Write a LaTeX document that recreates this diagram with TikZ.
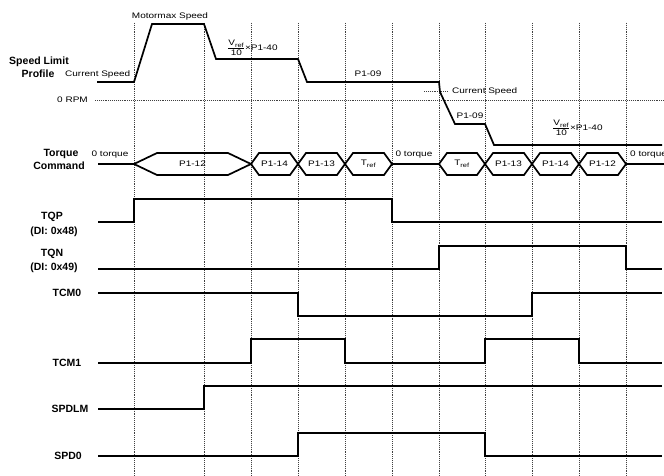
\documentclass[tikz,border=0pt]{standalone}
\usepackage{fontspec}
\setmainfont{Liberation Sans}
\newcommand{\wtxt}[1]{\scalebox{1.25}[1]{#1}}
\newcommand{\vreflbl}{\wtxt{$\vcenter{\hbox{\renewcommand\arraystretch{1}\setlength{\tabcolsep}{0pt}\begin{tabular}{@{}c@{}}V\textsubscript{ref}\\[-1pt]\hline\rule{0pt}{7.5pt}10\end{tabular}}}$\kern0.5pt×P1-40}}
\begin{document}
\begin{tikzpicture}[x=1pt,y=-1pt,
  sig/.style={line width=1.7pt, line join=miter},
  gridline/.style={densely dotted, line width=0.9pt, black!75},
  small/.style={font=\fontsize{8}{9}\selectfont, inner sep=0pt},
  big/.style={font=\bfseries\fontsize{10.5}{12}\selectfont, inner sep=0pt}]
\useasboundingbox (0,0) rectangle (664,476);
\fill[white] (0,0) rectangle (664,476);
% grid
\foreach \x in {134,204,251,298,345,392,439,485,532,579,626}
  \draw[gridline] (\x,23) -- (\x,476);
\draw[gridline] (95,100) -- (664,100);
\draw[gridline] (424,91) -- (448,91);
% speed limit profile
\draw[sig] (97,82) -- (134,82) -- (152,24) -- (204,24) -- (216,59) -- (298,59) -- (307,82) -- (439,82) -- (440,92) -- (455,124) -- (485,124) -- (494,145) -- (662,145);
% torque command
\draw[sig] (98,164) -- (134,164);
\draw[sig] (392,164) -- (439,164);
\draw[sig] (626,164) -- (664,164);
\foreach \a/\b/\s/\t/\n in {134/251/23/P1-12/ha,251/298/8/P1-14/hb,298/345/8/P1-13/hc,345/392/8/{T\textsubscript{ref}}/hd,439/485/8/{T\textsubscript{ref}}/he,485/532/8/P1-13/hf,532/579/8/P1-14/hg,579/626/8/P1-12/hh}{
  \draw[sig] (\a,164) -- ({\a+\s},153) -- ({\b-\s},153) -- (\b,164) -- ({\b-\s},175) -- ({\a+\s},175) -- cycle;
  \node[small] (\n) at ({(\a+\b)/2},164) {\wtxt{\t}};
}
% digital signals
\draw[sig] (98,222) -- (134,222) -- (134,199) -- (392,199) -- (392,222) -- (662,222);
\draw[sig] (98,269) -- (439,269) -- (439,246) -- (626,246) -- (626,269) -- (662,269);
\draw[sig] (98,293) -- (298,293) -- (298,316) -- (532,316) -- (532,293) -- (662,293);
\draw[sig] (98,363) -- (251,363) -- (251,339) -- (345,339) -- (345,363) -- (485,363) -- (485,339) -- (579,339) -- (579,363) -- (662,363);
\draw[sig] (98,409) -- (204,409) -- (204,386) -- (662,386);
\draw[sig] (98,456) -- (298,456) -- (298,433) -- (485,433) -- (485,456) -- (662,456);
% texts
\node[small] (mms) at (170,16) {\wtxt{Motormax Speed}};
\node[small] (vr1) at (253,49) {\vreflbl};
\node[small] (vr2) at (578,129) {\vreflbl};
\node[small] (p09a) at (368,74) {\wtxt{P1-09}};
\node[small] (p09b) at (470,116) {\wtxt{P1-09}};
\node[small,anchor=west] (cs2) at (452,91) {\wtxt{Current Speed}};
\node[big] (sl) at (39,62) {Speed Limit};
\node[big] (pr) at (38,74) {Profile};
\node[small,anchor=west] (cs1) at (65,74) {\wtxt{Current Speed}};
\node[small,anchor=east] (rpm) at (88,100) {\wtxt{0 RPM}};
\node[big] (tq) at (61,154) {Torque};
\node[big] (cmd) at (59,166) {Command};
\node[small] (zt1) at (110,155) {\wtxt{0 torque}};
\node[small] (zt2) at (414,155) {\wtxt{0 torque}};
\node[small,anchor=west] (zt3) at (630,155) {\wtxt{0 torque}};
\node[big] (tqp) at (52,217) {TQP};
\node[big] (di48) at (54,232) {(DI: 0x48)};
\node[big] (tqn) at (52,254) {TQN};
\node[big] (di49) at (54,268) {(DI: 0x49)};
\node[big] (tcm0) at (67,293) {TCM0};
\node[big] (tcm1) at (67,363) {TCM1};
\node[big] (spdlm) at (70,409) {SPDLM};
\node[big] (spd0) at (68,456) {SPD0};
\end{tikzpicture}
\end{document}
